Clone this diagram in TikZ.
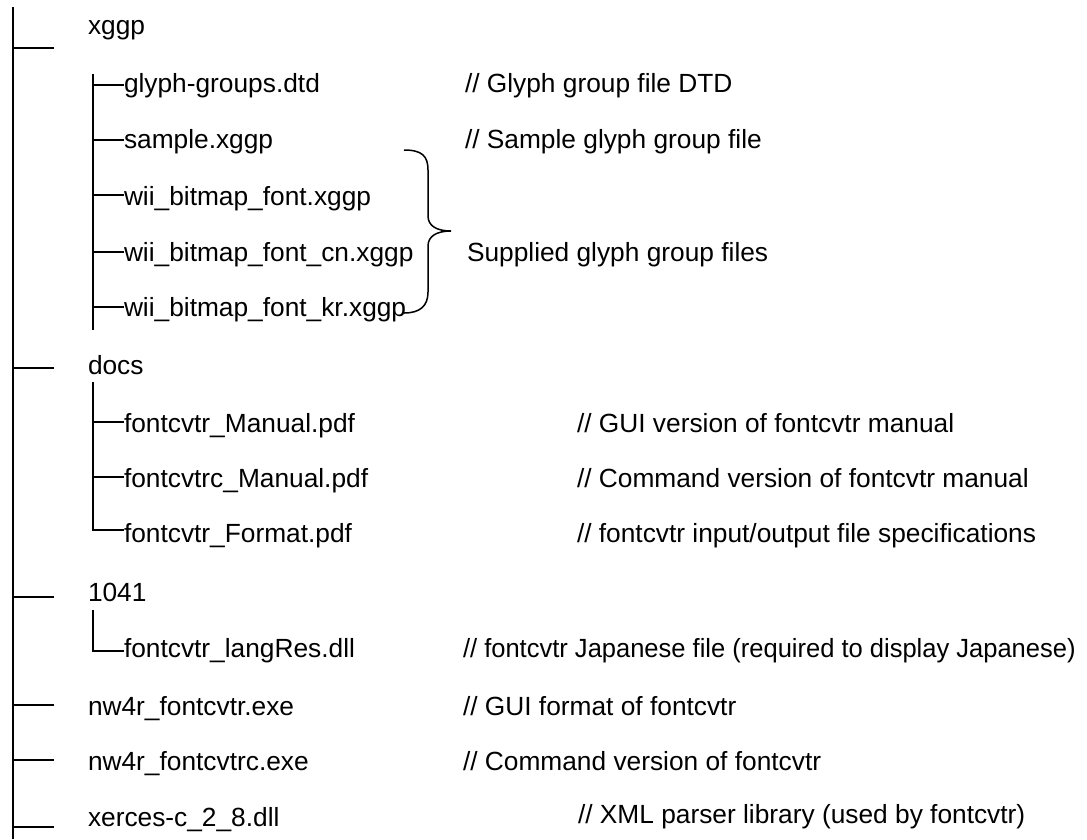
\documentclass[tikz,border=0pt]{standalone}
\usepackage{fontspec}
\setmainfont{Liberation Sans}
\begin{document}
\begin{tikzpicture}[x=1pt,y=-1pt,
  every node/.style={inner sep=0pt,outer sep=0pt,anchor=base west,
    font=\fontsize{26.3}{30}\selectfont},
  trunk/.style={line width=2pt,line cap=butt},
  branch/.style={line width=1.6pt,line cap=butt}]
\useasboundingbox (0,0) rectangle (1087,839);

% ---- top-level entries ----
\node (xggp)  at (88,34)  {xggp};
\node (docs)  at (88,374) {docs};
\node (d1041) at (88,601) {1041};
\node (exe)   at (88,715) {nw4r\_fontcvtr.exe};
\node (exec)  at (88,770) {nw4r\_fontcvtrc.exe};
\node (xerces) at (88,826) {xerces-c\_2\_8.dll};

% ---- xggp folder ----
\node (gdtd) at (124,92)  {glyph-groups.dtd};
\node (samp) at (124,148) {sample.xggp};
\node (wii)  at (124,205) {wii\_bitmap\_font.xggp};
\node (wcn)  at (124,261) {wii\_bitmap\_font\_cn.xggp};
\node (wkr)  at (124,316) {wii\_bitmap\_font\_kr.xggp};

% ---- docs folder ----
\node (man)  at (124,432) {fontcvtr\_Manual.pdf};
\node (manc) at (124,487) {fontcvtrc\_Manual.pdf};
\node (fmt)  at (124,542) {fontcvtr\_Format.pdf};

% ---- 1041 folder ----
\node (lang) at (124,657) {fontcvtr\_langRes.dll};

% ---- comments ----
\node (cdtd)  at (465,92)  {// Glyph group file DTD};
\node (csamp) at (465,148) {// Sample glyph group file};
\node (csup)  at (467,261) {Supplied glyph group files};
\node (cman)  at (577,432) {// GUI version of fontcvtr manual};
\node (cmanc) at (577,487) {// Command version of fontcvtr manual};
\node (cfmt)  at (577,542) {// fontcvtr input/output file specifications};
\node[xscale=0.97] (clang) at (463,657) {// fontcvtr Japanese file (required to display Japanese)};
\node (cexe)  at (463,715) {// GUI format of fontcvtr};
\node (cexec) at (463,770) {// Command version of fontcvtr};
\node (cxer)  at (578,823) {// XML parser library (used by fontcvtr)};

% ---- main trunk and its stubs ----
\coordinate (rtop) at (13,7);
\coordinate (rbot) at (13,839);
\draw[trunk] (rtop) -- (rbot);
\foreach \y in {47.7,368,597,705,760,827}
  \draw[trunk] (13,\y) -- (54,\y);

% ---- xggp branch ----
\coordinate (xtop) at (93,74);
\coordinate (xbot) at (93,330);
\draw[branch] (xtop) -- (xbot);
\foreach \y/\n in {85/gdtd,140/samp,195/wii,252/wcn,307/wkr}
  \draw[branch] (93,\y) -- (\n.west |- 0,\y);

% ---- docs branch ----
\coordinate (dtop) at (93,382);
\draw[branch] (dtop) -- (93,530) -- (fmt.west |- 0,530);
\foreach \y/\n in {422/man,477/manc}
  \draw[branch] (93,\y) -- (\n.west |- 0,\y);

% ---- 1041 branch ----
\coordinate (ltop) at (93,610);
\draw[branch] (ltop) -- (93,651) -- (lang.west |- 0,651);

% ---- brace grouping the supplied files ----
\draw[line width=1.5pt]
  (404,150) .. controls (422,150) and (428,156) .. (428,170)
  -- (428,216) .. controls (428,226) and (437,231) .. (451,231)
  .. controls (437,231) and (428,236) .. (428,246)
  -- (428,292) .. controls (428,306) and (420,313) .. (404,313);
\end{tikzpicture}
\end{document}
